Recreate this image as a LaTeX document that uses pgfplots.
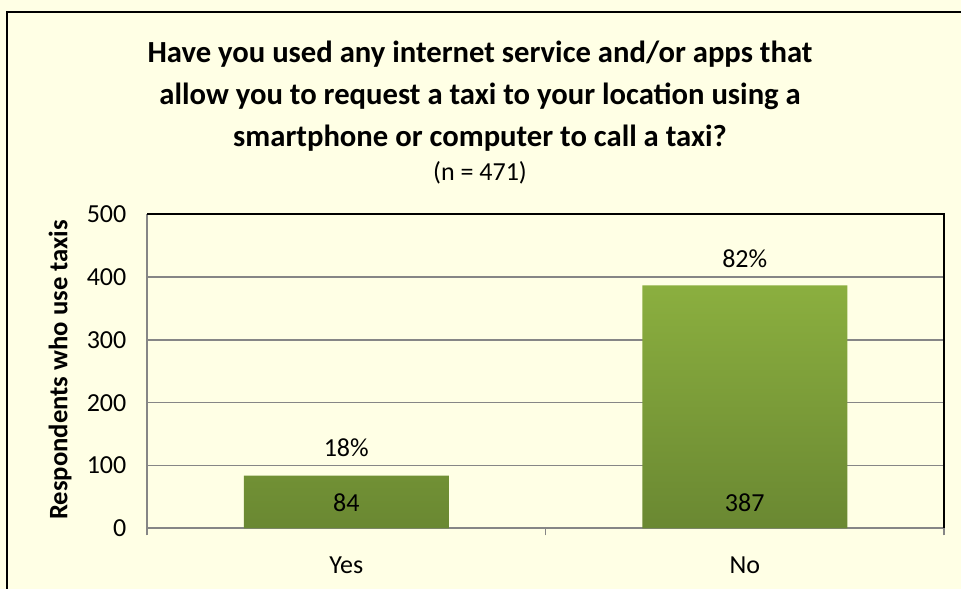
\documentclass[border=0pt]{standalone}
\usepackage{pgfplots}
\pgfplotsset{compat=1.18}
\usepackage{fontspec}
\setmainfont{Carlito}
\definecolor{bg}{HTML}{FFFFE5}
\definecolor{gridc}{HTML}{868686}
\definecolor{bartop}{HTML}{8BAF3F}
\definecolor{barbot}{HTML}{6A8832}
\begin{document}
\begin{tikzpicture}
\fill[bg] (0,0) rectangle (720.75pt,-441.75pt);
\useasboundingbox (0,0) rectangle (720.75pt,-441.75pt);
\draw[black, line width=1.5pt] (5.25pt,-445pt) -- (5.25pt,-9pt) -- (725pt,-9pt);
\begin{axis}[
  at={(110.25pt,-160.75pt)}, anchor=north west,
  width=597.75pt, height=235.5pt, scale only axis,
  xmin=-0.5, xmax=1.5, ymin=0, ymax=500,
  ytick={0,100,...,500},
  xtick={0,1}, xticklabels={Yes,No},
  major x tick style={draw=none},
  ytick style={draw=none},
  extra x ticks={-0.5,0.5,1.5}, extra x tick labels={},
  extra x tick style={major tick length=5.25pt, tick align=outside, grid=none, major x tick style={draw=gridc, line width=0.8pt}},
  ymajorgrids, grid style={gridc, line width=1pt},
  axis x line*=bottom, axis y line*=left,
  axis line style={gridc, line width=1.3pt, -},
  /pgf/number format/assume math mode=true,
  tick label style={font=\fontsize{19.5}{22}\selectfont, text=black},
  yticklabel style={xshift=-12pt},
  xticklabel style={yshift=-13.5pt},
  ybar, bar width=153.75pt,
  clip=false,
]
\addplot[ybar, draw=none, top color=bartop, bottom color=barbot] coordinates {(0,84) (1,387)};
\draw[black, line width=1.5pt] (rel axis cs:0,1) -- (rel axis cs:1,1) -- (rel axis cs:1,0);
\node[font=\fontsize{19.5}{22}\selectfont] at (axis cs:0,84) [yshift=21pt] {18\%};
\node[font=\fontsize{19.5}{22}\selectfont] at (axis cs:1,387) [yshift=20.25pt] {82\%};
\node[font=\fontsize{19.5}{22}\selectfont] at (axis cs:0,0) [yshift=19.5pt] {84};
\node[font=\fontsize{19.5}{22}\selectfont] at (axis cs:1,0) [yshift=19.5pt] {387};
\end{axis}
\node[font=\fontsize{20}{22}\selectfont\bfseries, rotate=90] at (45pt,-277.5pt) {Respondents who use taxis};
\node[font=\fontsize{23}{28}\selectfont\bfseries, anchor=base] at (360pt,-46.5pt) {Have you used any internet service and/or apps that};
\node[font=\fontsize{23}{28}\selectfont\bfseries, anchor=base] at (360pt,-78pt) {allow you to request a taxi to your location using a};
\node[font=\fontsize{23}{28}\selectfont\bfseries, anchor=base] at (360pt,-109.5pt) {smartphone or computer to call a taxi?};
\node[font=\fontsize{19.5}{22}\selectfont, anchor=base] at (360pt,-135pt) {(n = 471)};
\end{tikzpicture}
\end{document}
